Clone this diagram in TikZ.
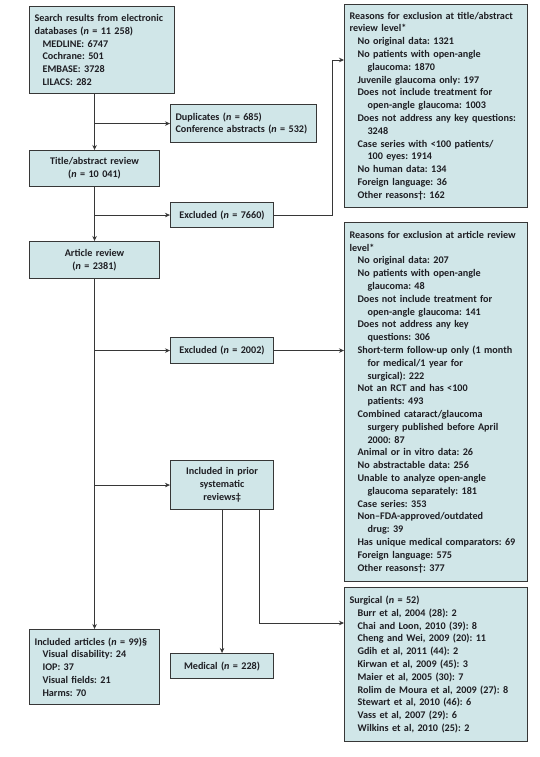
\documentclass[tikz,border=0pt]{standalone}
\usepackage{fontspec}
\setmainfont{Carlito}
\usetikzlibrary{arrows.meta}
\definecolor{boxfill}{RGB}{208,230,232}
\definecolor{boxline}{RGB}{55,55,55}
\definecolor{txt}{RGB}{30,30,35}
\newcommand{\ia}{\hspace*{8bp}}
\newcommand{\ib}{\hspace*{18bp}}
\newcommand{\nn}{\textit{n}}
\frenchspacing
\hyphenpenalty=10000
\exhyphenpenalty=10000
\begin{document}
\begin{tikzpicture}[x=1bp,y=-1bp,
  box/.style={draw=boxline, line width=1.1bp, fill=boxfill, rectangle, anchor=north west,
    inner xsep=5bp, inner ysep=2bp, text=txt,
    font=\bfseries\fontsize{10.2}{12.85}\selectfont},
  lbox/.style={box, align=left},
  cbox/.style={box, align=center},
  arr/.style={draw=boxline, line width=0.9bp, -{Stealth[length=5bp,width=4.5bp]}},
  ln/.style={draw=boxline, line width=0.9bp}]
\useasboundingbox (0,0) rectangle (540,757);

\node[lbox, minimum width=145bp, text width=135bp, minimum height=87bp] (search) at (29,6)
 {Search results from electronic\\databases (\nn{} = 11 258)\\\ia MEDLINE: 6747\\\ia Cochrane: 501\\\ia EMBASE: 3728\\\ia LILACS: 282};
\node[lbox, minimum width=146bp, text width=136bp, minimum height=38bp] (dup) at (170,104)
 {Duplicates (\nn{} = 685)\\Conference abstracts (\nn{} = 532)};
\node[cbox, minimum width=130bp, text width=120bp, minimum height=36bp] (title) at (29,150)
 {Title/abstract review\\(\nn{} = 10 041)};
\node[cbox, minimum width=103bp, text width=93bp, minimum height=25bp] (ex1) at (170,202)
 {Excluded (\nn{} = 7660)};
\node[cbox, minimum width=130bp, text width=120bp, minimum height=37bp] (art) at (29,241)
 {Article review\\(\nn{} = 2381)};
\node[cbox, minimum width=103bp, text width=93bp, minimum height=26bp] (ex2) at (170,337)
 {Excluded (\nn{} = 2002)};
\node[cbox, minimum width=103bp, text width=93bp, minimum height=49bp] (prior) at (170,460)
 {Included in prior\\systematic\\reviews‡};
\node[lbox, minimum width=130bp, text width=120bp, minimum height=75bp] (incl) at (29,629)
 {Included articles (\nn{} = 99)§\\\ia Visual disability: 24\\\ia IOP: 37\\\ia Visual fields: 21\\\ia Harms: 70};
\node[cbox, minimum width=103bp, text width=93bp, minimum height=25bp] (med) at (170,653)
 {Medical (\nn{} = 228)};

\node[lbox, minimum width=183bp, text width=173bp, minimum height=203bp] (r1) at (344,4)
 {Reasons for exclusion at title/abstract\\review level*\\
 \ia No original data: 1321\\
 \ia No patients with open-angle\\
 \ib glaucoma: 1870\\
 \ia Juvenile glaucoma only: 197\\
 \ia Does not include treatment for\\
 \ib open-angle glaucoma: 1003\\
 \ia Does not address any key questions:\\
 \ib 3248\\
 \ia Case series with <100 patients/\\
 \ib 100 eyes: 1914\\
 \ia No human data: 134\\
 \ia Foreign language: 36\\
 \ia Other reasons†: 162};

\node[lbox, minimum width=183bp, text width=173bp, minimum height=359bp] (r2) at (344,222)
 {Reasons for exclusion at article review\\level*\\
 \ia No original data: 207\\
 \ia No patients with open-angle\\
 \ib glaucoma: 48\\
 \ia Does not include treatment for\\
 \ib open-angle glaucoma: 141\\
 \ia Does not address any key\\
 \ib questions: 306\\
 \ia Short-term follow-up only (1 month\\
 \ib for medical/1 year for\\
 \ib surgical): 222\\
 \ia Not an RCT and has <100\\
 \ib patients: 493\\
 \ia Combined cataract/glaucoma\\
 \ib surgery published before April\\
 \ib 2000: 87\\
 \ia Animal or in vitro data: 26\\
 \ia No abstractable data: 256\\
 \ia Unable to analyze open-angle\\
 \ib glaucoma separately: 181\\
 \ia Case series: 353\\
 \ia Non–FDA-approved/outdated\\
 \ib drug: 39\\
 \ia Has unique medical comparators: 69\\
 \ia Foreign language: 575\\
 \ia Other reasons†: 377};

\node[lbox, minimum width=183bp, text width=173bp, minimum height=154bp] (surg) at (344,587)
 {Surgical (\nn{} = 52)\\
 \ia Burr et al, 2004 (28): 2\\
 \ia Chai and Loon, 2010 (39): 8\\
 \ia Cheng and Wei, 2009 (20): 11\\
 \ia Gdih et al, 2011 (44): 2\\
 \ia Kirwan et al, 2009 (45): 3\\
 \ia Maier et al, 2005 (30): 7\\
 \ia Rolim de Moura et al, 2009 (27): 8\\
 \ia Stewart et al, 2010 (46): 6\\
 \ia Vass et al, 2007 (29): 6\\
 \ia Wilkins et al, 2010 (25): 2};

% connectors
\draw[arr] (search.south -| title.north) -- (title.north);
\draw[arr] (dup.west -| title.north) -- (dup.west);
\draw[arr] (title.south) -- (art.north);
\draw[arr] (ex1.west -| title.north) -- (ex1.west);
\draw[arr] (art.south) -- (incl.north);
\draw[arr] (ex2.west -| art.south) -- (ex2.west);
\draw[arr] (prior.west -| art.south) -- (prior.west);
\coordinate (r1arr) at ([yshift=-56bp]r1.north west);
\coordinate (r1turn) at ([xshift=-12bp]r1arr);
\draw[arr] (ex1.east) -| (r1turn) -- (r1arr);
\draw[arr] (ex2.east) -- (ex2.east -| r2.west);
\draw[arr] (prior.south) -- (med.north);
\coordinate (sarr) at ([yshift=-36bp]surg.north west);
\coordinate (pdown) at ([xshift=37bp]prior.south);
\draw[arr] (pdown) |- (sarr);
\end{tikzpicture}
\end{document}
